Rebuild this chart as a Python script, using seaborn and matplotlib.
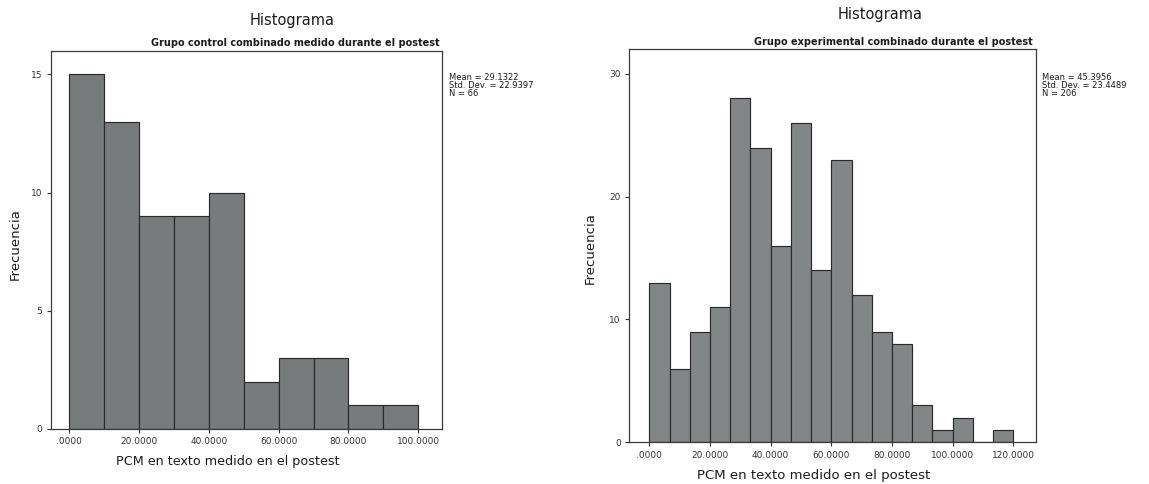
import numpy as np
import pandas as pd
import matplotlib
matplotlib.use("Agg")
import matplotlib.pyplot as plt
import seaborn as sns

# ---- data -------------------------------------------------------------
# Control group: bins of width 10 from 0 to 100
control_start = 0.0
control_width = 10.0
control_counts = [15, 13, 9, 9, 10, 2, 3, 3, 1, 1]

# Experimental group: 18 bins spanning 0 to 120
exp_start = 0.0
exp_width = 120.0 / 18
exp_counts = [13, 6, 9, 11, 28, 24, 16, 26, 14, 23, 12, 9, 8, 3, 1, 2, 0, 1]

control_stats = ["Mean = 29.1322", "Std. Dev. = 22.9397", "N = 66"]
exp_stats = ["Mean = 45.3956", "Std. Dev. = 23.4489", "N = 206"]

control_xticks = [0, 20, 40, 60, 80, 100]
exp_xticks = [0, 20, 40, 60, 80, 100, 120]
control_yticks = [0, 5, 10, 15]
exp_yticks = [0, 10, 20, 30]

title = "Histograma"
control_subtitle = "Grupo control combinado medido durante el postest"
exp_subtitle = "Grupo experimental combinado durante el postest"
xlabel = "PCM en texto medido en el postest"
ylabel = "Frecuencia"

# ---- figure -----------------------------------------------------------
sns.set_theme(style="white")
plt.rcParams["font.family"] = ["DejaVu Sans"]

W, H = 1149, 484
fig = plt.figure(figsize=(W / 100, H / 100), dpi=100)
fig.patch.set_facecolor("white")


def px_axes(x0, x1, top, bottom):
    return fig.add_axes([x0 / W, 1 - bottom / H, (x1 - x0) / W, (bottom - top) / H])


def fig_text(x, y, s, **kw):
    fig.text(x / W, 1 - y / H, s, **kw)


def tick_fmt(v):
    s = f"{v:.4f}"
    return s[1:] if s.startswith("0") else s


def draw_hist(ax, start, width, counts, color, xlim, ylim, xticks, yticks):
    edges = [float(start + width * i) for i in range(len(counts) + 1)]
    centers = [e + width / 2 for e in edges[:-1]]
    df = pd.DataFrame({"x": centers, "n": counts})
    sns.histplot(data=df, x="x", weights="n", bins=edges, ax=ax,
                 color=color, alpha=1.0, edgecolor="#2a2a2a", linewidth=0.85)
    ax.set_xlim(*xlim)
    ax.set_ylim(*ylim)
    ax.set_xticks(xticks)
    ax.set_xticklabels([tick_fmt(v) for v in xticks])
    ax.set_yticks(yticks)
    ax.set_yticklabels([str(v) for v in yticks])
    ax.set_xlabel("")
    ax.set_ylabel("")
    ax.tick_params(direction="out", length=3, width=0.8, pad=3,
                   labelsize=6.5, colors="#333333", bottom=True, left=True)
    for sp in ax.spines.values():
        sp.set_visible(True)
        sp.set_color("#3a3a3a")
        sp.set_linewidth(0.9)
    ax.set_facecolor("white")


# Left panel: control group
ax1 = px_axes(50.7, 441.7, 50.7, 429.0)
draw_hist(ax1, control_start, control_width, control_counts, "#777b7b",
          (-5.3, 106.7), (0, 16), control_xticks, control_yticks)

# Right panel: experimental group
ax2 = px_axes(629.0, 1036.0, 49.3, 442.3)
draw_hist(ax2, exp_start, exp_width, exp_counts, "#838686",
          (-6.7, 127.5), (0, 32), exp_xticks, exp_yticks)

txt = "#1c1c1c"

# Titles
fig_text(292, 21, title, ha="center", va="center", fontsize=10.5, color=txt)
fig_text(880, 15, title, ha="center", va="center", fontsize=10.5, color=txt)

# Subtitles
fig_text(440, 43, control_subtitle, ha="right", va="center", fontsize=7.0,
         fontweight="bold", color=txt)
fig_text(1033, 42, exp_subtitle, ha="right", va="center", fontsize=7.0,
         fontweight="bold", color=txt)

# Summary statistics
fig_text(449, 73.5, "\n".join(control_stats), ha="left", va="top",
         fontsize=6.0, linespacing=0.85, color=txt)
fig_text(1042, 73.5, "\n".join(exp_stats), ha="left", va="top",
         fontsize=6.0, linespacing=0.85, color=txt)

# Axis labels
fig_text(15, 244, ylabel, ha="center", va="center", rotation=90,
         fontsize=9.5, color=txt)
fig_text(590, 248, ylabel, ha="center", va="center", rotation=90,
         fontsize=9.5, color=txt)
fig_text(116, 462, xlabel, ha="left", va="center", fontsize=9.2, color=txt)
fig_text(697, 476, xlabel, ha="left", va="center", fontsize=9.5, color=txt)

fig.savefig("out.png", dpi=100, facecolor="white")
